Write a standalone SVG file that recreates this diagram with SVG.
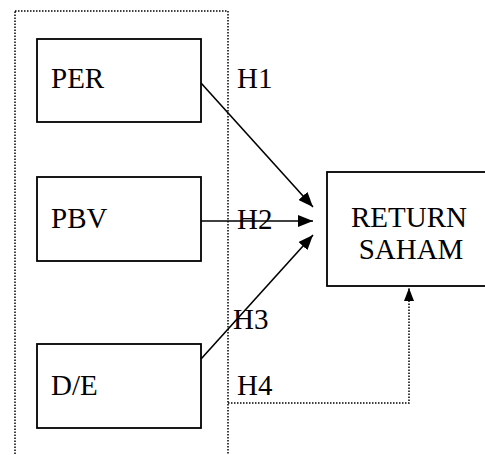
<svg xmlns="http://www.w3.org/2000/svg" width="485" height="455" viewBox="0 0 485 455">
<style>
.box{fill:#fff;stroke:#000;stroke-width:1.8}
.lbl{font-family:"Liberation Serif","Times New Roman",serif;font-size:29px;fill:#000}
.dot{fill:none;stroke:#000;stroke-width:1.5;stroke-dasharray:1.5,1.5}
.arr{fill:none;stroke:#000;stroke-width:1.6}
</style>
<defs>
<marker id="ah" markerWidth="15" markerHeight="12" refX="15" refY="6" orient="auto" markerUnits="userSpaceOnUse">
<path d="M0,0 L15,6 L0,12 Z" fill="#000"/>
</marker>
<marker id="ah2" markerWidth="13" markerHeight="10" refX="13" refY="5" orient="auto" markerUnits="userSpaceOnUse">
<path d="M0,0 L13,5 L0,10 Z" fill="#000"/>
</marker>
</defs>
<rect class="dot" x="15" y="11" width="213" height="460"/>
<g id="per"><rect class="box" x="37" y="39" width="164" height="83"/><text class="lbl" x="51" y="88">PER</text></g>
<g id="pbv"><rect class="box" x="37" y="177" width="164" height="84"/><text class="lbl" x="51" y="228">PBV</text></g>
<g id="de"><rect class="box" x="37" y="344" width="164" height="84"/><text class="lbl" x="51" y="395">D/E</text></g>
<g id="return"><rect class="box" x="327" y="172" width="170" height="114"/><text class="lbl" x="409" y="227" text-anchor="middle">RETURN</text><text class="lbl" x="411" y="259" text-anchor="middle">SAHAM</text></g>
<g id="connectors">
<line class="arr" x1="201" y1="83" x2="313" y2="207" marker-end="url(#ah)"/>
<line class="arr" x1="201" y1="221" x2="313" y2="221" marker-end="url(#ah)"/>
<line class="arr" x1="201" y1="359" x2="313" y2="235" marker-end="url(#ah)"/>
<polyline class="dot" points="228,403 409,403 409,288" marker-end="url(#ah2)"/>
</g>
<g id="labels">
<text class="lbl" x="237" y="88">H1</text>
<text class="lbl" x="237" y="229">H2</text>
<text class="lbl" x="233" y="329">H3</text>
<text class="lbl" x="237" y="395">H4</text>
</g>
</svg>
